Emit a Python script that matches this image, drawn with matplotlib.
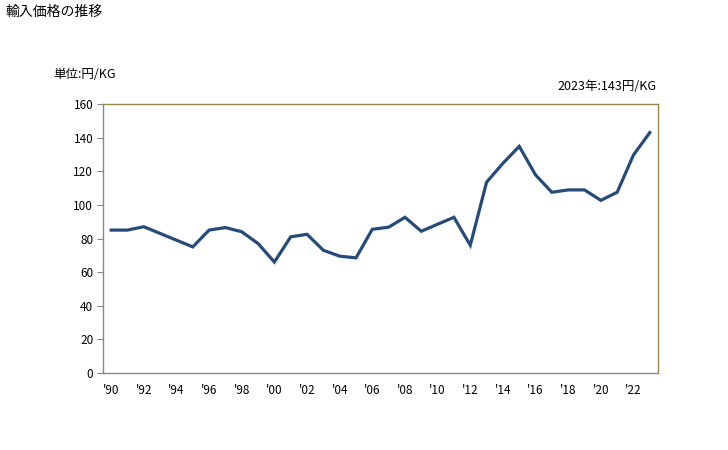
import numpy as np
import matplotlib.pyplot as plt

plt.rcParams['font.family'] = ['Noto Sans CJK JP', 'DejaVu Sans']

# Data
years = list(range(1990, 2024))
values = [85, 85, 87, 83, 79, 75, 85, 86.5, 84, 77,
          66, 81, 82.5, 73, 69.5, 68.5, 85.5, 86.7, 92.6, 84.3,
          88.5, 92.6, 76, 113.5, 124.7, 134.8, 117.8, 107.5, 108.9, 108.9,
          102.7, 107.5, 129.7, 143]
tick_years = list(range(1990, 2023, 2))
tick_labels = ["'%02d" % (y % 100) for y in tick_years]

fig = plt.figure(figsize=(7.28, 4.5), dpi=100)
ax = fig.add_axes([0.1415, 0.1711, 0.7623, 0.5978])

ax.plot(years, values, color='#264b78', linewidth=2.3, solid_joinstyle='miter')

ax.set_xlim(1989.5, 2023.5)
ax.set_ylim(0, 160)
ax.set_yticks(range(0, 161, 20))
ax.set_xticks(tick_years)
ax.set_xticklabels(tick_labels)
ax.tick_params(axis='x', length=0, pad=8, labelsize=8.5)
ax.tick_params(axis='y', length=4, color='#888888', labelsize=8.5, pad=3)

ax.spines['left'].set_color('#888888')
ax.spines['bottom'].set_color('#888888')
ax.spines['top'].set_color('#9a8a48')
ax.spines['right'].set_color('#9a8a48')
for s in ax.spines.values():
    s.set_linewidth(1)

fig.text(5 / 728, 1 - 12 / 450, '輸入価格の推移', fontsize=10, va='center', ha='left')
fig.text(53 / 728, 1 - 75 / 450, '単位:円/KG', fontsize=9, va='center', ha='left')
fig.text(656 / 728, 1 - 86 / 450, '2023年:143円/KG', fontsize=9, va='center', ha='right')

fig.savefig('out.png', dpi=100)
